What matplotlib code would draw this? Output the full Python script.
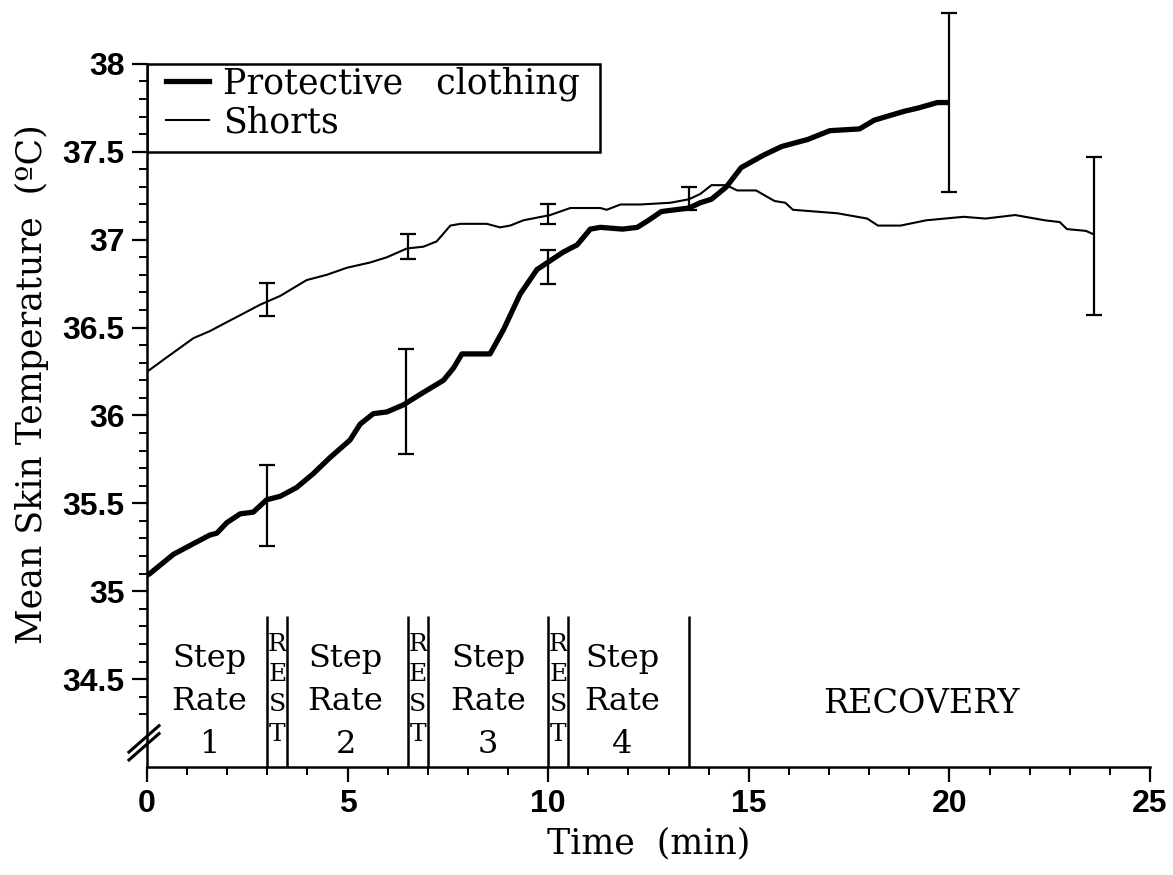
import matplotlib
matplotlib.use("Agg")
import matplotlib.pyplot as plt
from matplotlib.patches import Rectangle
from matplotlib.lines import Line2D
import numpy as np

# ---------------- data ----------------
t_prot = [0, 0.07, 0.66, 1.07, 1.57, 1.74, 1.99, 2.32, 2.65, 2.98, 3.32, 3.73, 4.15,
          4.56, 5.06, 5.31, 5.64, 5.98, 6.39, 6.81, 7.39, 7.64, 7.85, 8.55, 8.89, 9.30,
          9.72, 10.05, 10.38, 10.72, 11.05, 11.30, 11.85, 12.22, 12.50, 12.82, 13.51,
          13.79, 14.07, 14.44, 14.81, 15.36, 15.82, 16.47, 17.02, 17.76, 18.13, 18.87,
          19.24, 19.70, 20.0]
T_prot = [35.09, 35.10, 35.21, 35.26, 35.32, 35.33, 35.39, 35.44, 35.45, 35.52, 35.54,
          35.59, 35.67, 35.76, 35.86, 35.95, 36.01, 36.02, 36.06, 36.12, 36.20, 36.27,
          36.35, 36.35, 36.49, 36.69, 36.83, 36.88, 36.93, 36.97, 37.06, 37.07, 37.06,
          37.07, 37.11, 37.16, 37.18, 37.21, 37.23, 37.30, 37.41, 37.48, 37.53, 37.57,
          37.62, 37.63, 37.68, 37.73, 37.75, 37.78, 37.78]

t_shorts = [0, 0.07, 0.49, 1.16, 1.57, 1.90, 2.32, 2.82, 3.32, 3.98, 4.48, 4.98, 5.56,
            5.98, 6.48, 6.89, 7.22, 7.56, 7.81, 8.47, 8.80, 9.05, 9.38, 10.05, 10.55,
            11.30, 11.46, 11.80, 12.29, 13.05, 13.51, 13.79, 14.07, 14.44, 14.71, 15.18,
            15.64, 15.91, 16.10, 17.21, 17.95, 18.22, 18.78, 19.42, 20.35, 20.90, 21.64,
            22.38, 22.75, 22.93, 23.40, 23.6]
T_shorts = [36.25, 36.26, 36.33, 36.44, 36.48, 36.52, 36.57, 36.63, 36.68, 36.77, 36.80,
            36.84, 36.87, 36.90, 36.95, 36.96, 36.99, 37.08, 37.09, 37.09, 37.07, 37.08,
            37.11, 37.14, 37.18, 37.18, 37.17, 37.20, 37.20, 37.21, 37.23, 37.26, 37.31,
            37.31, 37.28, 37.28, 37.22, 37.21, 37.17, 37.15, 37.12, 37.08, 37.08, 37.11,
            37.13, 37.12, 37.14, 37.11, 37.10, 37.06, 37.05, 37.03]

eb_prot_t = [3, 6.45, 10, 20]
eb_prot_mean = [35.49, 36.08, 36.845, 37.78]
eb_prot_err = [0.23, 0.30, 0.095, 0.51]

eb_shorts_t = [3, 6.5, 10, 13.5, 23.6]
eb_shorts_mean = [36.66, 36.96, 37.145, 37.235, 37.02]
eb_shorts_err = [0.095, 0.07, 0.055, 0.065, 0.45]

phase_bounds = [3, 3.5, 6.5, 7, 10, 10.5, 13.5]
step_centers = [1.55, 4.95, 8.5, 11.85]
step_labels = ["Step\nRate\n1", "Step\nRate\n2", "Step\nRate\n3", "Step\nRate\n4"]
rest_centers = [3.25, 6.75, 10.25]
series_labels = ["Protective   clothing", "Shorts"]
x_ticks = [0, 5, 10, 15, 20, 25]
y_ticks = [34.5, 35, 35.5, 36, 36.5, 37, 37.5, 38]

SERIF = "DejaVu Serif"
SANS = "Liberation Sans"

fig = plt.figure(figsize=(11.73, 8.75), dpi=100)
ax = fig.add_axes([147 / 1173, 1 - 767 / 875, (1150 - 147) / 1173, (767 - 2) / 875])
ax.set_xlim(0, 25)
ax.set_ylim(34, 38.352)

# curves
ax.plot(t_prot, T_prot, color="black", lw=3.8, solid_capstyle="butt", zorder=3)
ax.plot(t_shorts, T_shorts, color="black", lw=1.5, zorder=3)

ax.errorbar(eb_prot_t, eb_prot_mean, yerr=eb_prot_err, fmt="none", ecolor="black",
            elinewidth=1.6, capsize=6, capthick=1.6, zorder=4)
ax.errorbar(eb_shorts_t, eb_shorts_mean, yerr=eb_shorts_err, fmt="none", ecolor="black",
            elinewidth=1.6, capsize=6, capthick=1.6, zorder=4)

# phase separators
ax.vlines(phase_bounds, 34, 34.86, color="black", lw=1.8)

for c, s in zip(step_centers, step_labels):
    ax.text(c, 34.375, s, ha="center", va="center", fontsize=23, family=SERIF,
            linespacing=1.5)
for c in rest_centers:
    ax.text(c, 34.44, "R\nE\nS\nT", ha="center", va="center", fontsize=18,
            family=SERIF, linespacing=1.38)
ax.text(19.3, 34.36, "RECOVERY", ha="center", va="center", fontsize=24, family=SERIF)

# legend (box + entries)
ax.add_patch(Rectangle((0, 37.5), 11.3, 0.5, fill=False, edgecolor="black", lw=1.8,
                       zorder=5))
handles = [Line2D([], [], color="black", lw=3.8), Line2D([], [], color="black", lw=1.5)]
leg = ax.legend(handles, series_labels, loc="upper left", bbox_to_anchor=(0.3, 38.025),
                bbox_transform=ax.transData, frameon=False,
                prop={"family": SERIF, "size": 25}, handlelength=1.25,
                handletextpad=0.4, labelspacing=0.12, borderpad=0.2,
                borderaxespad=0.0)

# spines
for s in ["top", "right"]:
    ax.spines[s].set_visible(False)
ax.spines["left"].set_bounds(34, 38)
ax.spines["left"].set_linewidth(1.8)
ax.spines["bottom"].set_linewidth(1.8)

ax.set_xticks(x_ticks)
ax.set_xticks(np.arange(0, 26, 1), minor=True)
ax.set_yticks(y_ticks)
ax.set_yticks([v for v in np.round(np.arange(34.3, 38.01, 0.1), 1)
               if not any(abs(v - m) < 1e-6 for m in y_ticks)], minor=True)
ax.set_yticklabels([("%g" % v) for v in y_ticks])
ax.tick_params(which="major", length=11, width=1.6, direction="out", pad=5)
ax.tick_params(which="minor", length=6, width=1.4, direction="out")
for lab in ax.get_xticklabels() + ax.get_yticklabels():
    lab.set_family(SANS)
    lab.set_fontweight("bold")
    lab.set_fontsize(23)

ax.set_xlabel("Time  (min)", family=SERIF, fontsize=25, labelpad=5)
ax.set_ylabel("Mean Skin Temperature  (ºC)", family=SERIF, fontsize=25, labelpad=10)

# axis break marks
for dy in (0.0, 0.045):
    ax.plot([-0.45, 0.3], [34.04 + dy, 34.19 + dy], color="black", lw=2.2,
            clip_on=False, zorder=6)

fig.savefig("out.png", dpi=100)
